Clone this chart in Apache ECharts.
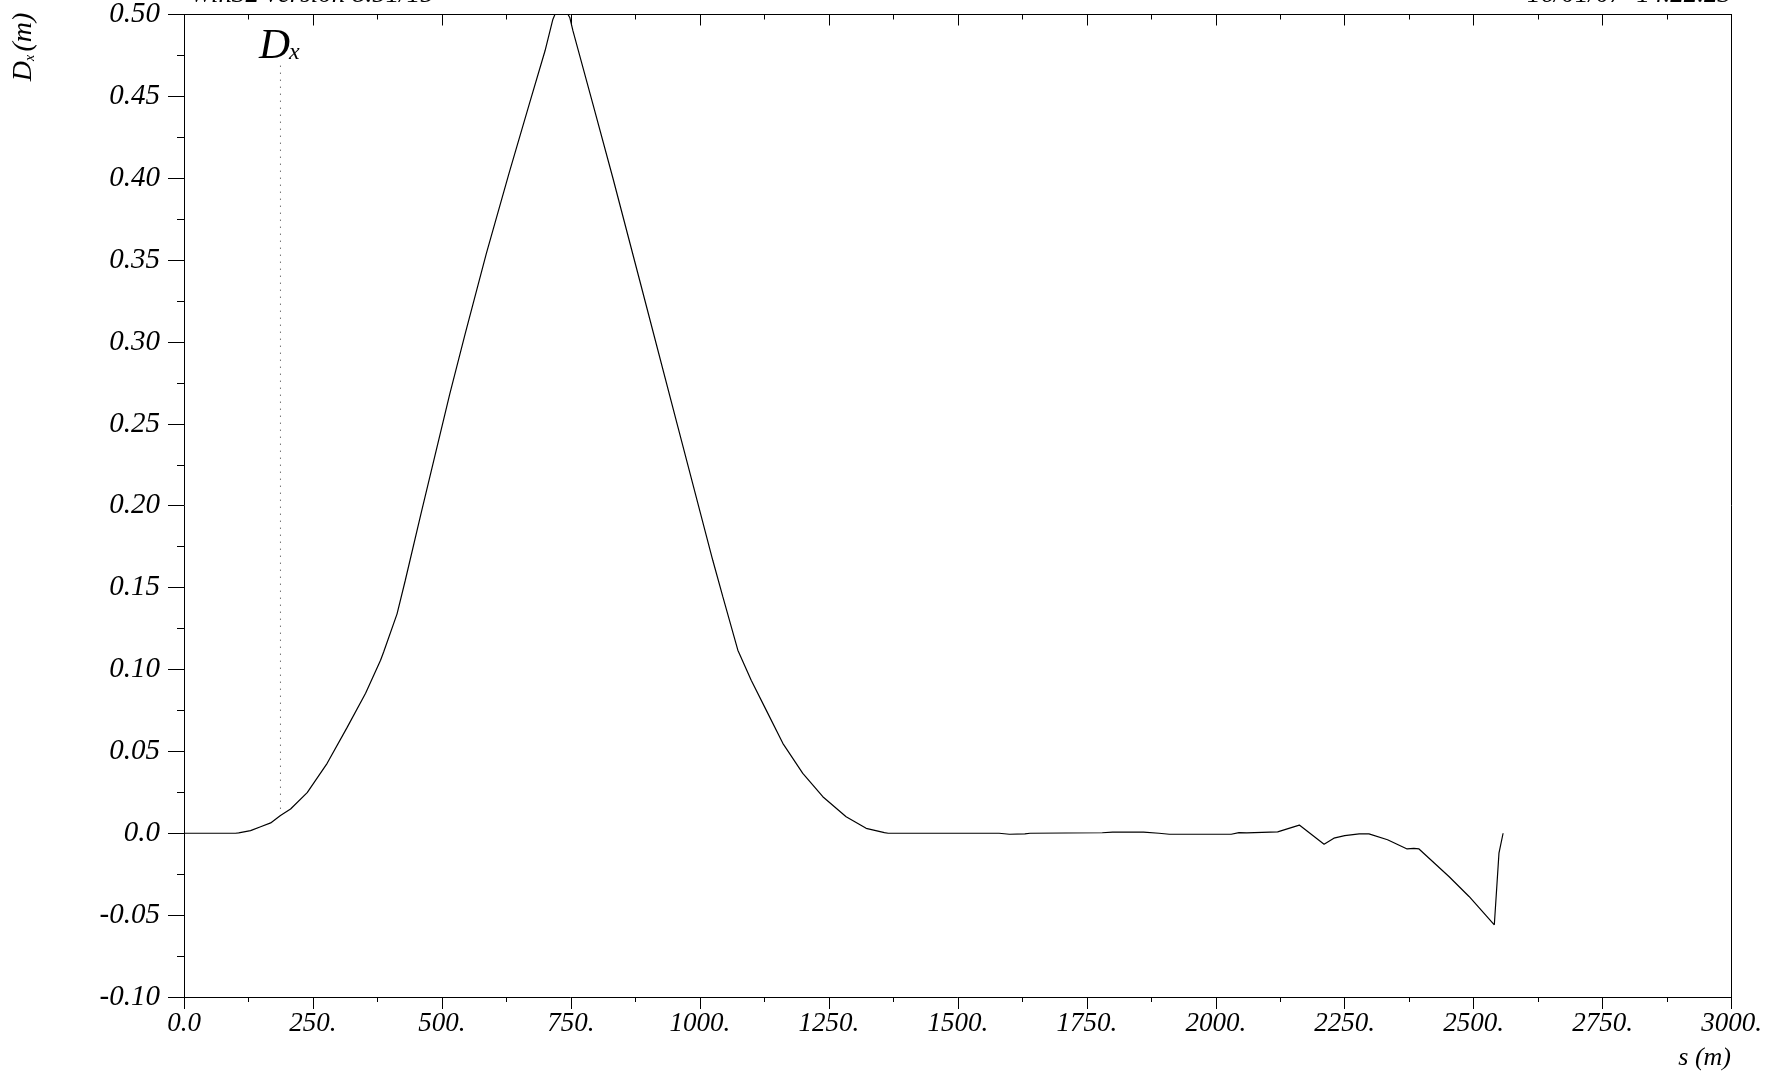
<!DOCTYPE html>
<html>
<head>
<meta charset="utf-8">
<script src="https://cdn.jsdelivr.net/npm/echarts@6/dist/echarts.min.js"></script>
<style>
html,body{margin:0;padding:0;background:#fff;}
#chart{width:1765px;height:1073px;}
</style>
</head>
<body>
<div id="chart"></div>
<script>
// s positions (m)
const sValues = [0, 50, 100, 106, 129, 148.5, 168, 187, 206.6, 238.8, 277.5, 316, 352, 381, 387, 413, 429,
  460, 515, 545, 586, 630, 670, 700, 715, 721, 728, 740, 748, 754, 792, 831.5, 883, 957.5, 1025, 1044.6,
  1073.6, 1099.5, 1128.6, 1160.8, 1199.5, 1238.3, 1283.5, 1322.3, 1357.7, 1365,
  1580, 1600, 1630, 1640, 1780, 1800, 1860, 1890, 1910, 2030, 2045, 2060, 2120, 2162, 2210, 2229, 2250,
  2278, 2297, 2333, 2371, 2384, 2394, 2452, 2491, 2540, 2549, 2557];
// horizontal dispersion Dx (m)
const dxValues = [0, 0, 0, 0.0002, 0.0016, 0.004, 0.0063, 0.0108, 0.0148, 0.0248, 0.0427, 0.0645, 0.0855, 0.1057, 0.1107, 0.134, 0.1545,
  0.196, 0.268, 0.305, 0.354, 0.403, 0.446, 0.478, 0.497, 0.5015, 0.5025, 0.5025, 0.498, 0.490, 0.446, 0.400, 0.338, 0.248, 0.1667, 0.1443,
  0.1118, 0.0935, 0.0752, 0.0549, 0.0366, 0.0223, 0.0101, 0.003, 0.0004, 0,
  0, -0.0006, -0.0004, 0, 0.0003, 0.0007, 0.0007, 0, -0.0006, -0.0006, 0.0004, 0.0002, 0.0008, 0.005, -0.0067, -0.003, -0.0015,
  -0.0004, -0.0004, -0.004, -0.0096, -0.0092, -0.0096, -0.0264, -0.0386, -0.0559, -0.0122, 0];
// dotted label marker line
const markerS = [187, 187];
const markerD = [0.015, 0.470];
// axis tick label lists
const xTickValues = [0, 250, 500, 750, 1000, 1250, 1500, 1750, 2000, 2250, 2500, 2750, 3000];
const xTickLabels = ['0.0', '250.', '500.', '750.', '1000.', '1250.', '1500.', '1750.', '2000.', '2250.', '2500.', '2750.', '3000.'];
const yTickValues = [-0.10, -0.05, 0, 0.05, 0.10, 0.15, 0.20, 0.25, 0.30, 0.35, 0.40, 0.45, 0.50];
const yTickLabels = ['-0.10', '-0.05', '0.0', '0.05', '0.10', '0.15', '0.20', '0.25', '0.30', '0.35', '0.40', '0.45', '0.50'];

const FONT = 'Liberation Serif';
const curve = sValues.map((s, i) => [s, dxValues[i]]);
const marker = markerS.map((s, i) => [s, markerD[i]]);

function xFmt(v) {
  const i = xTickValues.findIndex(t => Math.abs(t - v) < 1e-6);
  return i >= 0 ? xTickLabels[i] : '';
}
function yFmt(v) {
  const i = yTickValues.findIndex(t => Math.abs(t - v) < 1e-6);
  return i >= 0 ? yTickLabels[i] : '';
}

const lineCol = '#000';
const chart = echarts.init(document.getElementById('chart'), null, {renderer: 'canvas'});
chart.setOption({
  animation: false,
  backgroundColor: '#fff',
  grid: {left: 184, top: 13, right: 32, bottom: 76, containLabel: false},
  xAxis: [{
    type: 'value', min: 0, max: 3000, interval: 250, position: 'bottom',
    axisLine: {show: true, onZero: false, lineStyle: {color: lineCol, width: 1}},
    axisTick: {show: true, length: 12, lineStyle: {color: lineCol, width: 1}},
    minorTick: {show: true, splitNumber: 2, length: 5, lineStyle: {color: lineCol, width: 1}},
    splitLine: {show: false},
    axisLabel: {formatter: xFmt, fontFamily: FONT, fontStyle: 'italic', fontSize: 27, color: '#000', margin: 13}
  }, {
    type: 'value', min: 0, max: 3000, interval: 250, position: 'top',
    axisLine: {show: true, onZero: false, lineStyle: {color: lineCol, width: 1}},
    axisTick: {show: true, inside: true, length: 11, lineStyle: {color: lineCol, width: 1}},
    minorTick: {show: true, splitNumber: 2, length: 5, lineStyle: {color: lineCol, width: 1}},
    splitLine: {show: false},
    axisLabel: {show: false}
  }],
  yAxis: [{
    type: 'value', min: -0.1, max: 0.5, interval: 0.05, position: 'left',
    axisLine: {show: true, onZero: false, lineStyle: {color: lineCol, width: 1}},
    axisTick: {show: true, length: 16, lineStyle: {color: lineCol, width: 1}},
    minorTick: {show: true, splitNumber: 2, length: 7, lineStyle: {color: lineCol, width: 1}},
    splitLine: {show: false},
    axisLabel: {formatter: yFmt, fontFamily: FONT, fontStyle: 'italic', fontSize: 29, color: '#000', margin: 24}
  }, {
    type: 'value', min: -0.1, max: 0.5, interval: 0.05, position: 'right',
    axisLine: {show: true, onZero: false, lineStyle: {color: lineCol, width: 1}},
    axisTick: {show: false},
    splitLine: {show: false},
    axisLabel: {show: false}
  }],
  series: [{
    type: 'line', name: 'Dx', data: curve, xAxisIndex: 0, yAxisIndex: 0,
    showSymbol: false, symbol: 'none', smooth: false, clip: true,
    lineStyle: {color: '#000', width: 1.2}
  }, {
    type: 'line', name: 'marker', data: marker, xAxisIndex: 0, yAxisIndex: 0,
    showSymbol: false, symbol: 'none',
    lineStyle: {color: '#333', width: 1, type: [1, 6]}
  }],
  graphic: [
    {type: 'text', x: 190, y: -5, style: {text: 'Win32 version 8.51/15', font: 'italic 27px "Liberation Serif"', fill: '#000', align: 'left', verticalAlign: 'middle'}},
    {type: 'text', x: 1731, y: -5, style: {text: '16/01/07  14.22.23', font: 'italic 27px "Liberation Serif"', fill: '#000', align: 'right', verticalAlign: 'middle'}},
    {type: 'text', x: 24, y: 47, rotation: Math.PI / 2,
      style: {text: '{d|D}{s|x} {d|(m)}', align: 'center', verticalAlign: 'middle', fill: '#000',
        rich: {d: {fontFamily: FONT, fontStyle: 'italic', fontSize: 28, fill: '#000'},
               s: {fontFamily: FONT, fontStyle: 'italic', fontSize: 14, fill: '#000', padding: [12, 0, 0, 0]}}}},
    {type: 'text', x: 1731, y: 1058, style: {text: 's (m)', font: 'italic 26px "Liberation Serif"', fill: '#000', align: 'right', verticalAlign: 'middle'}},
    {type: 'text', x: 259, y: 47, style: {text: 'D', font: 'italic 43px "Liberation Serif"', fill: '#000', align: 'left', verticalAlign: 'middle'}},
    {type: 'text', x: 289, y: 53, style: {text: 'x', font: 'italic 24px "Liberation Serif"', fill: '#000', align: 'left', verticalAlign: 'middle'}}
  ]
});
</script>
</body>
</html>
